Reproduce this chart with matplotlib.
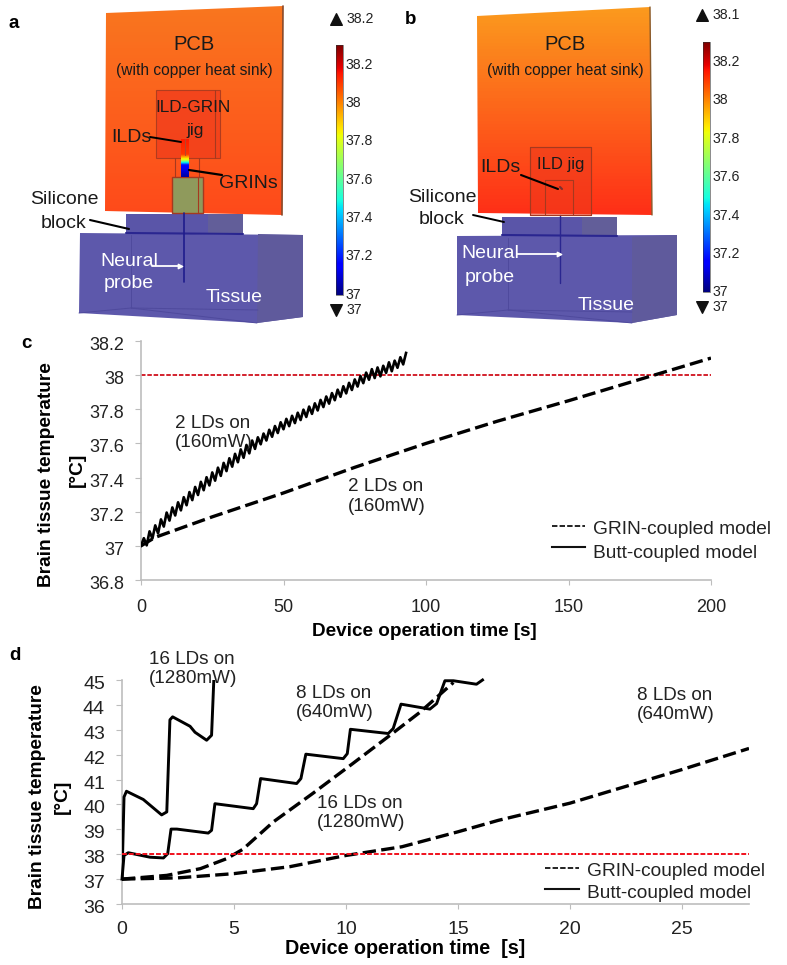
import numpy as np
import matplotlib
matplotlib.use("Agg")
import matplotlib.pyplot as plt
from matplotlib.patches import Polygon
from matplotlib.transforms import ScaledTranslation

plt.rcParams["font.family"] = ["Liberation Sans", "DejaVu Sans"]

W, H = 787, 965

# panel c
c_butt_t = list(range(94))
c_butt_temp = [
    37.00, 37.045, 37.003, 37.085, 37.043, 37.12, 37.073, 37.155, 37.113, 37.195,
    37.148, 37.225, 37.178, 37.255, 37.208, 37.285, 37.238, 37.315, 37.268, 37.345,
    37.298, 37.375, 37.326, 37.402, 37.354, 37.43, 37.382, 37.458, 37.41, 37.486,
    37.438, 37.513, 37.464, 37.539, 37.49, 37.565, 37.516, 37.591, 37.542, 37.617,
    37.568, 37.636, 37.595, 37.658, 37.617, 37.68, 37.639, 37.702, 37.661, 37.724,
    37.683, 37.744, 37.701, 37.762, 37.719, 37.78, 37.737, 37.798, 37.755, 37.816,
    37.773, 37.835, 37.793, 37.855, 37.813, 37.875, 37.833, 37.895, 37.853, 37.915,
    37.873, 37.935, 37.893, 37.955, 37.913, 37.975, 37.933, 37.995, 37.953, 38.015,
    37.973, 38.035, 37.983, 38.045, 37.993, 38.055, 38.013, 38.075, 38.023, 38.085,
    38.043, 38.105, 38.063, 38.13,
]
c_grin_t = [0, 5, 25, 50, 75, 100, 125, 150, 180, 200]
c_grin_temp = [37.0, 37.05, 37.17, 37.31, 37.46, 37.6, 37.73, 37.85, 38.0, 38.1]

# panel d
d_butt16_t = [0, 0.09, 0.2, 0.95, 1.77, 2.0, 2.14, 2.26, 3.04, 3.26, 3.78, 4.0, 4.1]
d_butt16_temp = [37, 40.3, 40.53, 40.2, 39.58, 39.7, 43.4, 43.52, 43.14, 42.9, 42.58, 42.78, 45]
d_butt8_t = [0, 0.09, 0.28, 1.25, 1.85, 2.04, 2.19, 2.45, 3.85, 4.0, 4.15, 5.86, 6.01, 6.19,
             7.8, 7.99, 8.21, 9.88, 10.06, 10.2, 11.89, 12.11, 12.46, 13.75, 14.05, 14.42,
             14.8, 15.83, 16.1]
d_butt8_temp = [37, 37.95, 38.06, 37.88, 37.85, 38.02, 39.01, 39.01, 38.85, 38.96, 40.03, 39.83,
                40.03, 41.04, 40.84, 41.04, 42.02, 41.84, 42.04, 43.02, 42.85, 43.05, 44.03,
                43.83, 44.05, 44.97, 44.97, 44.83, 45]
d_grin16_t = [0, 2, 3.5, 4.67, 5.4, 6.76, 8.5, 10.3, 12, 13.3, 14.8]
d_grin16_temp = [37, 37.15, 37.42, 37.82, 38.2, 39.3, 40.43, 41.64, 42.8, 43.7, 44.9]
d_grin8_t = [0, 2.5, 5, 7.5, 10, 12.5, 15, 16.8, 20, 25, 28]
d_grin8_temp = [37, 37.05, 37.22, 37.5, 37.95, 38.3, 38.9, 39.36, 40.05, 41.4, 42.25]

# colorbars
cbar_labels = ["37", "37.2", "37.4", "37.6", "37.8", "38", "38.2"]
cbar_a_y = [295, 256, 218, 180, 141, 103, 65]
cbar_b_y = [292, 254, 216, 177, 139, 100, 62]

fig = plt.figure(figsize=(W / 100, H / 100), dpi=100)


def px_axes(x0, x1, y_top, y_bot):
    return fig.add_axes([x0 / W, 1 - y_bot / H, (x1 - x0) / W, (y_bot - y_top) / H])


# everything in the two model renderings is drawn in pixel coords
bg = fig.add_axes([0, 0, 1, 1])
bg.set_xlim(0, W)
bg.set_ylim(H, 0)
bg.axis("off")


def gradient_poly(pts, top, bottom, edge=None):
    ys = [p[1] for p in pts]
    xs = [p[0] for p in pts]
    cols = np.linspace(matplotlib.colors.to_rgb(top), matplotlib.colors.to_rgb(bottom), 64)[:, None, :]
    im = bg.imshow(cols, extent=[min(xs), max(xs), max(ys), min(ys)], aspect="auto", zorder=2)
    patch = Polygon(pts, closed=True, fc="none", ec=edge or "none", lw=0.8, zorder=3)
    bg.add_patch(patch)
    im.set_clip_path(patch)


def poly(pts, fc, ec="none", alpha=1, lw=0.8, z=4):
    bg.add_patch(Polygon(pts, closed=True, fc=fc, ec=ec, alpha=alpha, lw=lw, zorder=z))


def seg(pts, color, lw=1.2, z=6):
    xs, ys = zip(*pts)
    bg.plot(xs, ys, color=color, lw=lw, zorder=z, solid_capstyle="round")


def txt(x, y, s, size=13.5, color="#1a1a1a", ha="center", weight="normal"):
    bg.text(x, y, s, fontsize=size, color=color, ha=ha, va="center", weight=weight, zorder=8)


def tissue(front_l, front_r, back_r, back_b, back_l, inner_x, side_x):
    poly([front_l, front_r, back_r, back_b, back_l], "#5d58ab", z=4)
    poly([(side_x, front_l[1] + 1), front_r, back_r, back_b], "#5f5a9c", z=5)
    seg([(inner_x, front_l[1] + 2), (inner_x, back_l[1] - 5)], "#4f4a9d", 0.7)
    seg([back_l, (inner_x, back_l[1] - 5), back_b], "#4f4a9d", 0.7)
    seg([(inner_x, back_l[1] - 5), (side_x, back_l[1] - 3)], "#4f4a9d", 0.7)


def colorbar(x0, x1, y_top, y_bot, ys, tri_x, tri_top, tri_bot, top_label, lab_x):
    grad = np.linspace(1, 0, 256)[:, None]
    bg.imshow(grad, cmap="jet", extent=[x0, x1, y_bot, y_top], aspect="auto", zorder=3)
    bg.plot([x0, x1, x1, x0, x0], [y_top, y_top, y_bot, y_bot, y_top], color="#333333", lw=0.4, zorder=4)
    for y, lab in zip(ys, cbar_labels):
        txt(lab_x, y, lab, 10.2, "#222222", ha="left")
    bg.scatter([tri_x], [tri_top], marker="^", s=70, color="#111111", zorder=5)
    bg.scatter([tri_x], [tri_bot], marker="v", s=70, color="#111111", zorder=5)
    txt(tri_x + 11, tri_top, top_label, 10.2, "#222222", ha="left")
    txt(tri_x + 11, tri_bot, "37", 10.2, "#222222", ha="left")


# panel a
txt(14, 23, "a", 13.5, "black", weight="bold")
tissue((80, 233), (303, 235), (303, 317), (257, 323), (79, 313), 131, 258)
poly([(126, 214), (243, 214), (243, 234), (126, 234)], "#5a55a8")
poly([(208, 214), (243, 214), (243, 234), (208, 234)], "#625e99", z=5)
seg([(126, 233), (243, 234)], "#2a2690", 1.5)
seg([(184, 213), (184, 282)], "#1f1c8c", 1.2)
gradient_poly([(106, 13), (283, 6), (282, 215), (105, 211)], "#f9761f", "#ff4a1a")
seg([(283, 6), (282, 215)], "#8a4a2a", 1.2)
poly([(156, 90), (220, 90), (220, 158), (156, 158)], "#f2401c", "#a5391f", 0.85)
seg([(215, 90), (215, 158)], "#a5391f", 0.8)
seg([(175, 158), (175, 177)], "#a5391f", 0.8)
seg([(199, 158), (199, 177)], "#a5391f", 0.8)
strip = np.interp(np.linspace(0, 1, 64), [0, 0.4, 0.55, 0.68, 1], [0.88, 0.85, 0.6, 0.14, 0.03])[:, None]
bg.imshow(strip, cmap="jet", vmin=0, vmax=1, extent=[181, 189, 177, 139], aspect="auto", zorder=6)
seg([(185, 139), (185, 155)], "#b8452a", 0.8, z=7)
poly([(172, 177), (203, 177), (203, 213), (172, 213)], "#8f9a5c", "#a5391f", lw=1)
seg([(198, 177), (198, 213)], "#a5391f", 0.8)
txt(194, 45, "PCB", 14.5)
txt(194, 70, "(with copper heat sink)", 11.2)
txt(193, 108, "ILD-GRIN", 12.4)
txt(195, 130, "jig", 12.4)
txt(131, 138, "ILDs", 14)
seg([(150, 137), (181, 142)], "black", 1.4)
txt(248, 184, "GRINs", 14)
seg([(189, 170), (222, 175)], "black", 1.6)
txt(64, 200, "Silicone", 14)
txt(64, 224, "block", 14)
seg([(90, 220), (129, 229)], "black", 1.5)
txt(129, 261, "Neural", 14, "white")
txt(129, 284, "probe", 14, "white")
txt(234, 298, "Tissue", 14, "white")
seg([(152, 266), (180, 266)], "white", 1.3)
bg.scatter([180], [266], marker=">", s=10, color="white", zorder=7)
colorbar(336, 343, 45, 295, cbar_a_y, 336, 19, 310, "38.2", 346)

# panel b
txt(411, 20, "b", 13.5, "black", weight="bold")
tissue((457, 236), (677, 235), (677, 315), (632, 323), (457, 315), 508, 632)
poly([(502, 217), (617, 217), (617, 236), (502, 236)], "#5a55a8")
poly([(582, 217), (617, 217), (617, 236), (582, 236)], "#625e99", z=5)
seg([(502, 235), (617, 236)], "#2a2690", 1.5)
seg([(560, 215), (560, 283)], "#2a2690", 1.0)
gradient_poly([(477, 16), (650, 7), (652, 215), (478, 213)], "#fb9a1e", "#ff2f17")
seg([(650, 7), (652, 215)], "#8a5a2a", 1.0)
poly([(530, 147), (591, 147), (591, 215), (530, 215)], "#ee3a1c", "#a5391f", 0.55, z=5)
seg([(530, 147), (591, 147), (591, 215), (530, 215), (530, 147)], "#a5391f", 0.8)
seg([(545, 180), (573, 180), (573, 215)], "#a5391f", 0.8)
seg([(545, 180), (545, 215)], "#a5391f", 0.8)
seg([(560, 187), (562, 189)], "#7a3030", 1.5)
txt(565, 45, "PCB", 14.5)
txt(565, 70, "(with copper heat sink)", 11.2)
txt(561, 164, "ILD jig", 12)
txt(500, 168, "ILDs", 14)
seg([(521, 175), (558, 189)], "black", 1.5)
txt(442, 197, "Silicone", 14)
txt(442, 220, "block", 14)
seg([(473, 215), (504, 222)], "black", 1.4)
txt(490, 254, "Neural", 14, "white")
txt(490, 277, "probe", 14, "white")
txt(606, 305, "Tissue", 14, "white")
seg([(517, 254), (558, 254)], "white", 1.3)
bg.scatter([559], [254], marker=">", s=10, color="white", zorder=7)
colorbar(703, 710, 42, 292, cbar_b_y, 702, 15, 307, "38.1", 713)

bg.set_xlim(0, W)
bg.set_ylim(H, 0)


def style_axis(ax, size, x_pad):
    ax.patch.set_alpha(0)
    for s in ["top", "right"]:
        ax.spines[s].set_visible(False)
    for s in ["left", "bottom"]:
        ax.spines[s].set_color("#bdbdbd")
        ax.spines[s].set_linewidth(1.2)
    ax.tick_params(colors="#222222", labelsize=size, color="#bdbdbd")
    ax.tick_params(axis="y", length=4.3, pad=8)
    ax.tick_params(axis="x", length=3.5, pad=x_pad)
    # y tick labels sit a little under their ticks
    shift = ScaledTranslation(0, -2.5 / 100, fig.dpi_scale_trans)
    for lab in ax.get_yticklabels():
        lab.set_transform(lab.get_transform() + shift)


def note(ax, x, y, s):
    ax.text(x, y, s, fontsize=13.6, color="#222222", va="center", linespacing=1.2, clip_on=False)


# panel c chart
ax_c = px_axes(141, 711, 341, 580)
ax_c.plot(c_butt_t, c_butt_temp, color="black", lw=1.9, solid_joinstyle="round", zorder=3)
ax_c.plot(c_grin_t, c_grin_temp, color="black", lw=2.4, dashes=(4, 1.6), zorder=3)
ax_c.axhline(38, color="#d0101c", lw=1.3, dashes=(2.5, 1), zorder=2)
ax_c.set_xlim(0, 200)
ax_c.set_ylim(36.8, 38.2)
ax_c.set_xticks([0, 50, 100, 150, 200])
ax_c.set_yticks([36.8, 37, 37.2, 37.4, 37.6, 37.8, 38, 38.2])
ax_c.set_yticklabels(["36.8", "37", "37.2", "37.4", "37.6", "37.8", "38", "38.2"])
style_axis(ax_c, 13, 10.5)
note(ax_c, 12, 37.66, "2 LDs on\n(160mW)")
note(ax_c, 72.6, 37.29, "2 LDs on\n(160mW)")

# panel d chart
ax_d = px_axes(122, 749, 680, 904)
ax_d.plot(d_butt16_t, d_butt16_temp, color="black", lw=2.1, zorder=3)
ax_d.plot(d_butt8_t, d_butt8_temp, color="black", lw=2.1, zorder=3, clip_on=False)
ax_d.plot(d_grin16_t, d_grin16_temp, color="black", lw=2.4, dashes=(4, 1.6), zorder=3)
ax_d.plot(d_grin8_t, d_grin8_temp, color="black", lw=2.4, dashes=(4, 1.6), zorder=3)
ax_d.axhline(38, color="#f0101c", lw=1.4, dashes=(2.5, 1), zorder=4)
ax_d.set_xlim(0, 28)
ax_d.set_ylim(36, 45)
ax_d.set_xticks([0, 5, 10, 15, 20, 25])
ax_d.set_yticks(list(range(36, 46)))
style_axis(ax_d, 14, 9)
note(ax_d, 1.2, 45.44, "16 LDs on\n(1280mW)")
note(ax_d, 7.77, 44.08, "8 LDs on\n(640mW)")
note(ax_d, 8.7, 39.66, "16 LDs on\n(1280mW)")
note(ax_d, 23, 44.0, "8 LDs on\n(640mW)")

txt(26, 343, "c", 13.5, "black", weight="bold")
txt(15, 655, "d", 13.5, "black", weight="bold")

# legends and axis titles on a top layer
bg.set_zorder(-1)
over = fig.add_axes([0, 0, 1, 1])
over.set_xlim(0, W)
over.set_ylim(H, 0)
over.axis("off")
for x0, x1, line_ys, tx, text_ys in [(552, 585, (526, 547), 593, (530, 553)),
                                     (545, 579, (868, 889), 587, (872, 894))]:
    over.plot([x0, x1], [line_ys[0], line_ys[0]], color="#111111", lw=1.3, dashes=(3, 1.2))
    over.plot([x0, x1], [line_ys[1], line_ys[1]], color="#111111", lw=1.5)
    over.text(tx, text_ys[0], "GRIN-coupled model", fontsize=13.8, color="#222222", va="center")
    over.text(tx, text_ys[1], "Butt-coupled model", fontsize=13.8, color="#222222", va="center")

over.text(424, 631, "Device operation time [s]", fontsize=13.6, weight="bold", ha="center", va="center")
over.text(405, 949, "Device operation time  [s]", fontsize=14.2, weight="bold", ha="center", va="center")
over.text(47, 475, "Brain tissue temperature", fontsize=13.8, weight="bold", rotation=90, ha="center", va="center")
over.text(77, 470, "[°C]", fontsize=13.8, weight="bold", rotation=90, ha="center", va="center")
over.text(38, 797, "Brain tissue temperature", fontsize=13.8, weight="bold", rotation=90, ha="center", va="center")
over.text(62, 797, "[°C]", fontsize=13.8, weight="bold", rotation=90, ha="center", va="center")

fig.savefig("out.png", dpi=100)
